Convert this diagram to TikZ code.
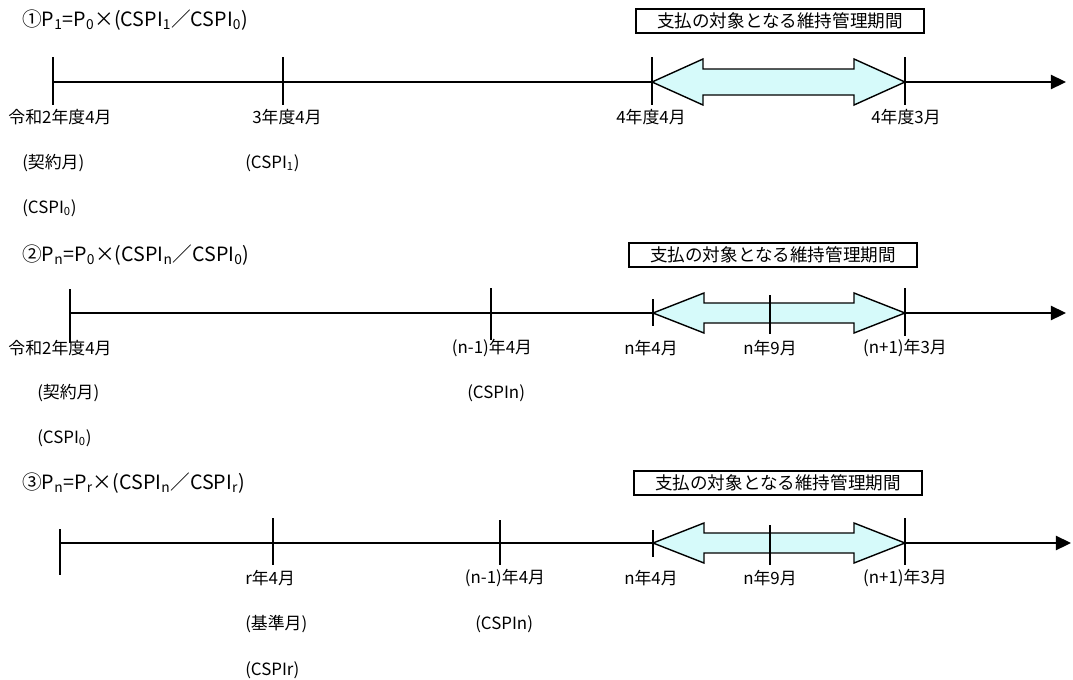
\documentclass[tikz,border=0pt]{standalone}
\usepackage{fontspec}
\setmainfont{Noto Sans CJK JP}
\usetikzlibrary{arrows.meta}
\definecolor{spanfill}{RGB}{214,250,250}

% two-headed block arrow for the payment period
\newcommand{\spanarrow}[5]{%
  \filldraw[span] (#1,#3) -- (#1+51,#3-#4) -- (#1+51,#3-#5) -- (#2-51,#3-#5)
    -- (#2-51,#3-#4) -- (#2,#3) -- (#2-51,#3+#4) -- (#2-51,#3+#5)
    -- (#1+51,#3+#5) -- (#1+51,#3+#4) -- cycle;}

\begin{document}
\begin{tikzpicture}[x=0.025cm,y=-0.025cm,
    lbl/.style={inner sep=0,font=\fontsize{12}{14}\selectfont},
    note/.style={lbl,anchor=west},
    formula/.style={lbl,anchor=west,font=\fontsize{14}{16}\selectfont},
    period/.style={draw,line width=0.8pt,inner sep=0,minimum width=7.2cm,minimum height=0.6cm,font=\fontsize{12.5}{15}\selectfont},
    axis/.style={line width=1pt,-{Triangle[length=0.38cm,width=0.36cm]}},
    tick/.style={line width=1pt},
    span/.style={draw=black,fill=spanfill,line width=1pt},
  ]
  \useasboundingbox (0,0) rectangle (1073,679);

  % ---- case 1
  \node[formula] (f1) at (22,20) {①P\textsubscript{1}=P\textsubscript{0}×(CSPI\textsubscript{1}／CSPI\textsubscript{0})};
  \node[period] (box1) at (780,21) {支払の対象となる維持管理期間};
  \coordinate (a1s) at (53,82);
  \coordinate (a1e) at (1066,82);
  \draw[axis] (a1s) -- (a1e);
  \spanarrow{652}{905}{82}{23}{13}
  \foreach \x in {53,283,652,905} \draw[tick] (\x,57) -- (\x,105);
  \node[lbl] (r1a) at (60,117) {令和2年度4月};
  \node[lbl] (r1b) at (287,117) {3年度4月};
  \node[lbl] (r1c) at (651,117) {4年度4月};
  \node[lbl] (r1d) at (906,117) {4年度3月};
  \node[note] (r1e) at (22,163) {(契約月)};
  \node[note] (r1f) at (22,208) {(CSPI\textsubscript{0})};
  \node[note] (r1g) at (245,163) {(CSPI\textsubscript{1})};

  % ---- case 2
  \node[formula] (f2) at (22,255) {②P\textsubscript{n}=P\textsubscript{0}×(CSPI\textsubscript{n}／CSPI\textsubscript{0})};
  \node[period] (box2) at (773,255) {支払の対象となる維持管理期間};
  \coordinate (a2s) at (70,313);
  \coordinate (a2e) at (1066,313);
  \draw[axis] (a2s) -- (a2e);
  \spanarrow{653}{905}{313}{20}{10}
  \draw[tick] (70,289) -- (70,343);
  \draw[tick] (491,288) -- (491,340);
  \draw[tick] (653,299) -- (653,326);
  \draw[tick] (770,295) -- (770,334);
  \draw[tick] (905,288) -- (905,336);
  \node[lbl] (r2a) at (60,348) {令和2年度4月};
  \node[lbl] (r2b) at (492,348) {(n-1)年4月};
  \node[lbl] (r2c) at (651,348) {n年4月};
  \node[lbl] (r2d) at (770,348) {n年9月};
  \node[lbl] (r2e) at (905,348) {(n+1)年3月};
  \node[note] (r2f) at (37,393) {(契約月)};
  \node[note] (r2g) at (37,438) {(CSPI\textsubscript{0})};
  \node[note] (r2h) at (467,393) {(CSPIn)};

  % ---- case 3
  \node[formula] (f3) at (22,483) {③P\textsubscript{n}=P\textsubscript{r}×(CSPI\textsubscript{n}／CSPI\textsubscript{r})};
  \node[period] (box3) at (778,483) {支払の対象となる維持管理期間};
  \coordinate (a3s) at (60,543);
  \coordinate (a3e) at (1071,543);
  \draw[axis] (a3s) -- (a3e);
  \spanarrow{653}{905}{543}{20}{10}
  \draw[tick] (60,529) -- (60,575);
  \draw[tick] (273,518) -- (273,565);
  \draw[tick] (500,520) -- (500,565);
  \draw[tick] (653,530) -- (653,557);
  \draw[tick] (770,525) -- (770,565);
  \draw[tick] (905,518) -- (905,565);
  \node[note] (r3a) at (245,578) {r年4月};
  \node[lbl] (r3b) at (505,578) {(n-1)年4月};
  \node[lbl] (r3c) at (651,578) {n年4月};
  \node[lbl] (r3d) at (770,578) {n年9月};
  \node[lbl] (r3e) at (905,578) {(n+1)年3月};
  \node[note] (r3f) at (245,624) {(基準月)};
  \node[note] (r3g) at (245,670) {(CSPIr)};
  \node[note] (r3h) at (475,624) {(CSPIn)};
\end{tikzpicture}
\end{document}
